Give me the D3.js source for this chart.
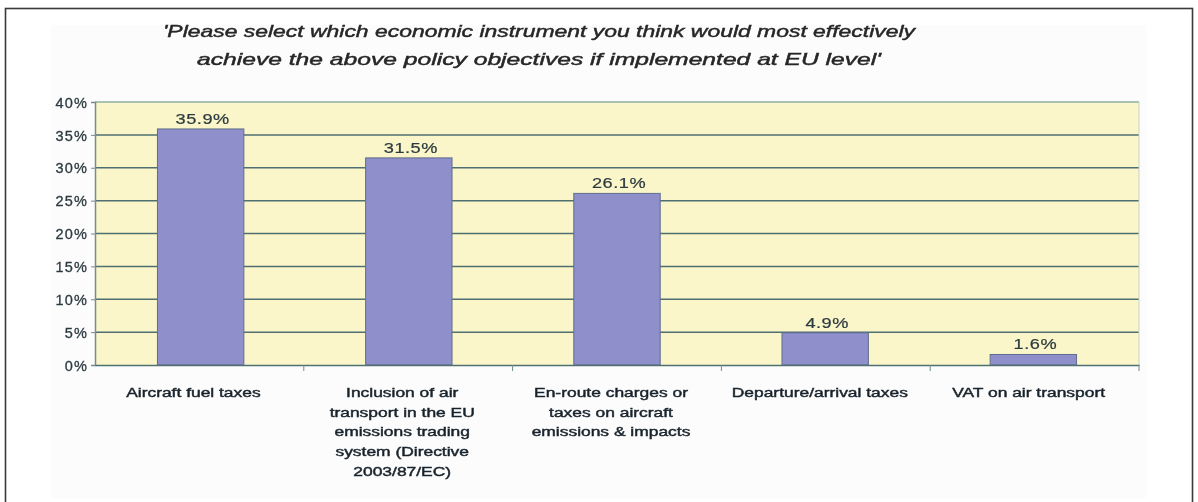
<!DOCTYPE html>
<html>
<head>
<meta charset="utf-8">
<script src="https://cdn.jsdelivr.net/npm/d3@7"></script>
<style>
  html, body { margin: 0; padding: 0; background: #fff; }
  svg { display: block; }
</style>
</head>
<body>
<svg id="chart" width="1198" height="502"></svg>
<script>
// Survey responses: preferred economic instrument at EU level
const categories = [
  "Aircraft fuel taxes",
  "Inclusion of air transport in the EU emissions trading system (Directive 2003/87/EC)",
  "En-route charges or taxes on aircraft emissions & impacts",
  "Departure/arrival taxes",
  "VAT on air transport"
];
const categoryLines = [
  ["Aircraft fuel taxes"],
  ["Inclusion of air", "transport in the EU", "emissions trading", "system (Directive", "2003/87/EC)"],
  ["En-route charges or", "taxes on aircraft", "emissions & impacts"],
  ["Departure/arrival taxes"],
  ["VAT on air transport"]
];
const shares = [35.9, 31.5, 26.1, 4.9, 1.6];
const yTicks = [0, 5, 10, 15, 20, 25, 30, 35, 40];
const titleLines = [
  "'Please select which economic instrument you think would most effectively",
  "achieve the above policy objectives if implemented at EU level'"
];

const svg = d3.select("#chart");

// soft print-like rendering
const defs = svg.append("defs");
defs.append("filter").attr("id", "soft")
  .append("feGaussianBlur").attr("stdDeviation", 0.55);

// outer frame
svg.append("rect")
  .attr("x", 5.5).attr("y", 8.5).attr("width", 1187).attr("height", 500)
  .attr("fill", "#fff").attr("stroke", "#3a3a3a").attr("stroke-width", 1.6);

const g = svg.append("g").attr("filter", "url(#soft)");

// chart area backdrop
g.append("rect")
  .attr("x", 51).attr("y", 25).attr("width", 1095).attr("height", 473)
  .attr("fill", "#fcfcfc");

const plot = { left: 95, right: 1139, top: 102, bottom: 365 };

const x = d3.scaleBand()
  .domain(categories)
  .range([plot.left, plot.right])
  .paddingInner(0.585)
  .paddingOuter(0.3);

const xOuter = d3.scaleBand()
  .domain(categories)
  .range([plot.left, plot.right]);

const y = d3.scaleLinear().domain([0, 40]).range([plot.bottom, plot.top]);

// plot background
g.append("rect")
  .attr("x", plot.left).attr("y", plot.top)
  .attr("width", plot.right - plot.left).attr("height", plot.bottom - plot.top)
  .attr("fill", "#fbf6c9");

// gridlines
g.append("g")
  .selectAll("line")
  .data(yTicks.filter(d => d > 0))
  .join("line")
  .attr("x1", plot.left).attr("x2", plot.right)
  .attr("y1", d => y(d)).attr("y2", d => y(d))
  .attr("stroke", d => d === 40 ? "#a9c2b4" : "#4f6f72")
  .attr("stroke-width", d => d === 40 ? 2 : 1.5);

// right edge of plot
g.append("line")
  .attr("x1", plot.right).attr("x2", plot.right)
  .attr("y1", plot.top).attr("y2", plot.bottom)
  .attr("stroke", "#c5d3c8").attr("stroke-width", 1);

// bars
g.append("g")
  .selectAll("rect")
  .data(shares)
  .join("rect")
  .attr("x", (d, i) => x(categories[i]))
  .attr("width", x.bandwidth())
  .attr("y", d => y(d))
  .attr("height", d => y(0) - y(d))
  .attr("fill", "#8e8fcb")
  .attr("stroke", "#5e6d8c")
  .attr("stroke-width", 1);

// y axis
const yAxis = g.append("g")
  .attr("transform", `translate(${plot.left},0)`)
  .call(d3.axisLeft(y).tickValues(yTicks).tickFormat(d => d + "%").tickSize(4).tickPadding(3));
yAxis.select(".domain").attr("stroke", "#7a8a90").attr("stroke-width", 1.5);
yAxis.selectAll(".tick line").attr("stroke", "#7a8a90");
yAxis.selectAll(".tick text")
  .attr("font-family", "Liberation Sans, Arial, sans-serif")
  .attr("font-size", 14.5)
  .attr("fill", "#2c3a40")
  .attr("stroke", "#2c3a40").attr("stroke-width", 0.3)
  .attr("letter-spacing", "1.2")
  .attr("dy", "0.36em");

// x axis baseline and category ticks
const xAxis = g.append("g")
  .attr("transform", `translate(0,${plot.bottom})`)
  .call(d3.axisBottom(xOuter).tickSize(0).tickFormat(""));
xAxis.select(".domain").attr("stroke", "#4f6f72").attr("stroke-width", 1.5);
g.append("g")
  .selectAll("line")
  .data(categories)
  .join("line")
  .attr("x1", d => xOuter(d) + xOuter.bandwidth())
  .attr("x2", d => xOuter(d) + xOuter.bandwidth())
  .attr("y1", plot.bottom).attr("y2", plot.bottom + 6)
  .attr("stroke", "#6f8a90").attr("stroke-width", 1);

// value labels
g.append("g")
  .selectAll("text")
  .data(shares)
  .join("text")
  .attr("transform", (d, i) =>
    `translate(${x(categories[i]) + x.bandwidth() / 2 + 2},${y(d) - 5}) scale(1.3,1)`)
  .attr("text-anchor", "middle")
  .attr("font-family", "Liberation Sans, Arial, sans-serif")
  .attr("font-size", 14)
  .attr("letter-spacing", "0.4")
  .attr("fill", "#2c3a40")
  .attr("stroke", "#2c3a40").attr("stroke-width", 0.2)
  .text(d => d.toFixed(1) + "%");

// category labels
const catG = g.append("g")
  .selectAll("g")
  .data(categories)
  .join("g")
  .attr("transform", d => `translate(${xOuter(d) + xOuter.bandwidth() / 2 - 6},397) scale(1.34,1)`);
catG.each(function(d, i) {
  d3.select(this).selectAll("text")
    .data(categoryLines[i])
    .join("text")
    .attr("y", (t, j) => j * 19.7)
    .attr("text-anchor", "middle")
    .attr("font-family", "Liberation Sans, Arial, sans-serif")
    .attr("font-size", 13)
    .attr("fill", "#1a242d")
    .attr("stroke", "#1a242d").attr("stroke-width", 0.45)
    .text(t => t);
});

// title
g.append("g")
  .selectAll("text")
  .data(titleLines)
  .join("text")
  .attr("x", 539)
  .attr("y", (d, i) => 37 + i * 28)
  .attr("text-anchor", "middle")
  .attr("font-family", "Liberation Sans, Arial, sans-serif")
  .attr("font-style", "italic")
  .attr("font-size", 17)
  .attr("fill", "#262626")
  .attr("stroke", "#262626").attr("stroke-width", 0.45)
  .attr("textLength", (d, i) => i === 0 ? 752 : 684)
  .attr("lengthAdjust", "spacingAndGlyphs")
  .text(d => d);
</script>
</body>
</html>
